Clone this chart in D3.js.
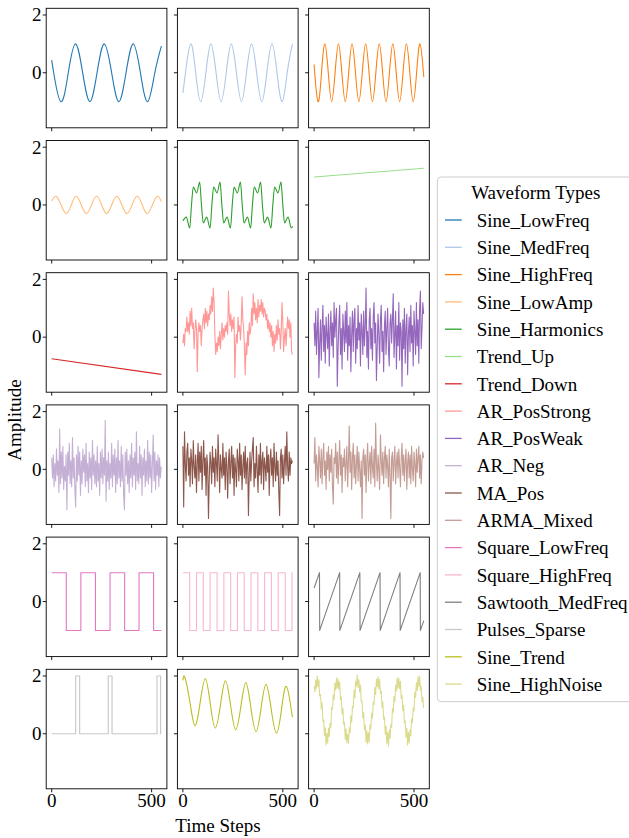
<!DOCTYPE html>
<html>
<head>
<meta charset="utf-8">
<script src="https://cdn.jsdelivr.net/npm/d3@7"></script>
<style>
  body { margin: 0; background: #fff; }
  svg { display: block; font-family: "Liberation Serif", "Times New Roman", serif; }
</style>
</head>
<body>
<script>
// series names and colours (tab20 order)
const seriesNames = ['Sine_LowFreq', 'Sine_MedFreq', 'Sine_HighFreq', 'Sine_LowAmp', 'Sine_Harmonics',
  'Trend_Up', 'Trend_Down', 'AR_PosStrong', 'AR_PosWeak', 'AR_Neg', 'MA_Pos', 'ARMA_Mixed',
  'Square_LowFreq', 'Square_HighFreq', 'Sawtooth_MedFreq', 'Pulses_Sparse', 'Sine_Trend', 'Sine_HighNoise']
const seriesColors = ['#1f77b4', '#aec7e8', '#ff7f0e', '#ffbb78', '#2ca02c', '#98df8a', '#d62728', '#ff9896',
  '#9467bd', '#c5b0d5', '#8c564b', '#c49c94', '#e377c2', '#f7b6d2', '#7f7f7f', '#c7c7c7', '#bcbd22', '#dbdb8d']

const xTicks = [0, 500]
const yTicks = [0, 2]

// smooth waves: [time step, amplitude] at turning points and crossings
const sineLowFreq = [[0,0.44],[10,0],[46,-1],[83,0],[119,1],[155,0],[191,-1],[227,0],[263,1],[300,0],[336,-1],
  [372,0],[408,1],[444,0],[480,-1],[516,0],[549,0.92]]
const sineMedFreq = [[0,-0.7],[13,0],[39,1],[64,0],[89,-1],[115,0],[140,1],[166,0],[191,-1],[217,0],[242,1],
  [268,0],[293,-1],[318,0],[344,1],[369,0],[395,-1],[420,0],[446,1],[471,0],[497,-1],[522,0],[548,1]]
const sineHighFreq = [[0,0.27],[3,0],[20,-1],[37,0],[54,1],[71,0],[88,-1],[105,0],[122,1],[139,0],[156,-1],
  [173,0],[190,1],[207,0],[224,-1],[241,0],[258,1],[275,0],[292,-1],[309,0],[326,1],[343,0],[360,-1],[377,0],
  [394,1],[411,0],[428,-1],[445,0],[462,1],[479,0],[496,-1],[513,0],[530,1],[549,-0.15]]
const sineLowAmp = [[0,0.14],[22,0.3],[47,0],[73,-0.3],[98,0],[123,0.3],[148,0],[174,-0.3],[199,0],[225,0.3],
  [250,0],[275,-0.3],[300,0],[326,0.3],[351,0],[377,-0.3],[402,0],[428,0.3],[453,0],[478,-0.3],[504,0],
  [529,0.3],[549,0.12]]
const sineHarmonics = [[0,-0.55],[17,-0.42],
  [34,-0.8],[43,0],[52,0.62],[69,0.42],[84,0.79],[93,0],[102,-0.62],[119,-0.42],
  [136,-0.8],[145,0],[154,0.62],[171,0.42],[186,0.79],[195,0],[204,-0.62],[221,-0.42],
  [238,-0.8],[247,0],[256,0.62],[273,0.42],[288,0.79],[297,0],[306,-0.62],[323,-0.42],
  [339,-0.8],[348,0],[357,0.62],[374,0.42],[389,0.79],[398,0],[407,-0.62],[424,-0.42],
  [441,-0.8],[450,0],[459,0.62],[476,0.42],[491,0.79],[500,0],[509,-0.62],[526,-0.42],
  [543,-0.8],[549,-0.74]]
const trendUp = [[0,0.97],[549,1.27]]
const trendDown = [[0,-0.75],[549,-1.29]]
const squareLowFreq = [[0,1],[73,-1],[146,1],[219,-1],[292,1],[365,-1],[437,1],[510,-1],[549,-1]]
const squareHighFreq = [[0,1],[34,-1],[68,1],[102,-1],[136,1],[171,-1],[205,1],[239,-1],[273,1],[307,-1],
  [341,1],[375,-1],[409,1],[443,-1],[477,1],[512,-1],[546,1],[549,1]]
const sawtoothMedFreq = [[0,0.47],[27,1],[28,-1],[128,1],[129,-1],[229,1],[230,-1],[330,1],[331,-1],[430,1],
  [431,-1],[531,1],[532,-1],[549,-0.66]]
const pulsesSparse = [[0,0],[120,2],[140,0],[283,2],[302,0],[527,2],[545,0],[549,0]]
const sineTrend = [[0,1.85],[10,1.95],[35,1.1],[60,0.28],[86,1.07],[112,1.9],[137,1.04],[162,0.2],[188,1.0],
  [213,1.83],[239,0.97],[264,0.14],[290,0.94],[315,1.77],[340,0.91],[366,0.08],[391,0.88],[416,1.71],
  [442,0.85],[468,0.02],[493,0.82],[518,1.64],[543,0.8],[549,0.62]]

// noisy series, one value every 4 time steps
const noiseSteps = d3.range(0, 549, 4)
const arPosStrong = [-0.2,0.1,-0.3,0.3,0.2,0.7,0.2,0.5,0.1,0.9,0.4,1.0,0.3,0.5,-0.4,0.2,0.6,0.3,-1.2,0.1,
  0.5,0.2,0.4,-0.3,0.3,0.6,0.8,0.3,1.0,0.5,0.9,0.4,0.8,0.6,1.1,0.8,1.4,0.9,1.7,1.2,
  0.1,-0.6,-0.2,-0.5,0.0,-0.3,0.2,-0.4,0.1,0.5,-0.1,0.3,0.0,0.4,0.2,0.5,0.1,1.6,0.8,0.4,
  0.8,0.2,0.6,0.3,0.7,-1.4,-0.3,0.1,-0.2,0.7,0.2,0.4,-0.1,0.5,1.4,0.6,0.3,-0.4,-1.3,-0.2,
  -0.6,0.2,-0.3,0.5,0.1,0.3,1.0,0.4,1.5,0.8,1.2,0.6,1.0,0.5,1.3,0.7,1.1,0.9,1.3,0.8,
  1.2,0.7,1.0,0.9,0.6,0.8,0.3,0.6,0.2,0.5,0.0,0.4,-0.3,0.2,-0.5,0.1,-0.2,0.4,-0.1,0.6,
  0.1,0.3,-0.4,0.2,1.2,0.5,-0.5,0.0,0.3,-0.3,0.2,0.7,0.3,0.6,0.0,0.5,-0.5,-0.6]
const arPosWeak = [0.5,-0.3,0.9,-0.6,0.2,1.0,-1.4,-0.2,0.6,-0.8,0.3,1.1,-0.5,0.4,-0.9,0.7,0.1,-0.4,0.8,-1.0,
  0.2,0.9,-0.3,0.5,-0.7,1.2,0.0,0.6,1.0,-1.7,-0.4,0.5,1.1,-0.6,0.3,-1.1,0.8,0.2,-0.5,0.9,
  -0.2,1.2,-0.8,0.4,-0.3,0.7,-1.2,0.1,0.9,-0.5,0.6,1.0,-0.9,0.3,-0.4,1.1,-0.1,0.5,-1.0,0.8,
  0.2,-0.6,0.9,-0.3,0.4,1.7,-0.7,0.2,-1.1,0.6,1.0,-0.4,0.3,-0.8,0.7,1.2,-0.2,0.5,-1.5,-0.3,
  0.8,0.1,-0.9,0.6,1.1,-0.5,0.2,-1.2,0.4,0.9,-0.6,0.3,1.0,-0.4,-1.0,0.5,0.8,-0.2,0.6,1.5,
  -0.7,0.1,0.9,-1.1,0.4,-0.3,1.2,-0.8,0.5,0.2,-1.7,0.6,-0.4,1.0,-0.9,0.3,0.8,-1.3,0.1,0.7,
  -0.5,1.1,-0.2,0.4,-1.0,0.9,0.2,-0.6,1.2,-0.3,0.6,-0.9,1.0,1.6,-0.4,0.3,1.2,0.8]
const arNeg = [0.4,-0.3,0.5,-0.6,0.2,-0.4,0.7,-0.2,0.3,-0.8,1.4,-0.5,0.6,-0.3,0.8,-0.7,0.1,-0.4,0.5,-1.4,
  0.6,-0.2,0.9,-0.5,0.3,-0.6,1.1,-0.3,0.4,-0.7,-1.3,0.5,-0.4,0.8,-0.2,0.6,-0.9,0.3,-0.5,0.7,
  -0.1,0.5,-0.6,0.9,-0.4,0.2,-0.8,0.6,-0.3,0.4,-0.7,1.0,-0.2,0.5,-0.5,0.3,-0.6,0.8,-0.4,0.2,
  -0.9,0.6,-0.3,0.7,-0.5,0.4,-0.2,1.7,-1.1,0.3,-0.4,0.6,-0.7,0.2,-0.3,0.9,-0.6,0.5,-0.2,0.7,
  -0.8,0.4,-0.5,1.0,-0.3,0.3,-0.6,0.8,-0.4,0.5,-0.9,-1.4,0.6,-0.2,0.7,-0.5,0.3,-0.8,0.5,-0.3,
  0.9,-0.6,0.4,-0.2,0.6,-0.7,1.3,-0.4,0.2,-0.5,0.8,-0.3,0.5,-0.9,0.4,-0.2,0.7,-0.6,0.3,-0.4,
  1.0,-0.5,0.6,-0.3,0.5,-0.8,0.2,1.2,-0.4,0.6,-0.7,0.3,-0.2,0.5,-0.6,0.4,-0.3,0.1]
const maPos = [0.8,-1.3,1.3,0.2,-0.4,0.6,0.9,-0.2,0.4,-0.6,0.7,0.3,-0.5,1.0,0.1,-0.3,0.5,-0.8,0.2,0.9,
  -0.4,0.6,-0.1,0.8,-0.7,0.3,1.0,-0.2,0.4,-0.9,0.5,0.1,-1.7,-0.3,0.6,0.2,-0.5,0.8,-0.1,0.4,
  -0.6,0.7,0.2,-0.4,1.2,0.3,-0.8,0.5,0.0,-0.3,0.9,-0.2,0.4,-0.7,0.6,0.1,-1.0,0.3,0.7,-0.5,
  0.2,0.8,-0.3,0.5,-0.9,0.4,0.0,-0.6,0.7,0.3,-0.4,0.9,-0.2,0.5,-0.7,0.1,0.6,-0.3,0.8,-0.5,
  0.2,0.4,-1.6,-0.2,0.6,-0.4,0.3,0.7,1.1,-0.6,0.2,-0.3,0.8,0.0,-0.8,0.5,-0.2,0.9,-0.5,0.3,
  0.6,-0.7,0.4,0.1,-0.4,0.8,-0.1,0.5,-0.9,0.3,0.7,-0.2,0.4,-0.6,0.9,0.1,-0.4,0.6,-0.2,0.3,
  -0.8,-1.6,0.4,0.7,-0.3,0.5,-0.5,0.2,0.8,-0.2,1.3,0.1,-0.4,0.6,-0.2,0.4,0.2,0.3]
const armaMixed = [0.2,1.1,-0.4,0.5,0.1,-0.6,0.8,0.3,-0.3,0.7,-0.5,0.4,0.9,-0.2,0.3,-0.7,0.6,0.0,0.8,-0.4,
  0.5,-0.1,0.7,-0.6,-1.2,0.4,0.2,0.9,-0.3,0.6,-0.5,0.3,1.0,-0.2,0.5,-0.8,0.4,0.1,0.7,-0.4,
  0.2,0.8,-0.6,0.3,1.5,-0.1,0.6,-0.7,0.4,0.9,-0.3,0.5,-0.5,0.2,0.8,-0.4,0.6,0.0,-0.6,0.3,
  -1.7,0.4,0.7,-0.2,0.5,-0.8,0.3,0.9,-0.4,0.2,0.6,-0.5,0.8,0.1,-0.3,0.7,-0.6,1.6,0.2,-0.4,
  0.5,0.0,-0.7,1.2,0.3,-0.2,0.6,-0.5,0.4,0.8,-0.3,0.5,0.1,-0.6,0.7,-0.2,-1.7,0.4,0.6,-0.4,
  0.3,0.8,-0.5,0.2,0.6,-0.3,0.7,0.1,-0.6,0.4,0.9,-0.2,0.5,-0.4,0.3,0.7,-0.7,0.2,0.6,-0.3,
  0.5,-0.5,0.8,0.0,-0.4,0.6,0.2,-0.6,0.7,-0.1,0.4,0.8,-0.3,0.5,-0.5,0.3,0.6,0.4]
const sineHighNoise = [1.64,1.45,1.86,1.57,2.0,1.64,1.87,1.31,1.36,0.86,1.07,0.43,0.48,-0.06,0.21,-0.39,0.02,-0.33,0.2,-0.09,
  0.37,0.22,0.91,0.85,1.34,1.18,1.76,1.52,1.94,1.58,1.9,1.55,1.79,1.18,1.28,0.69,0.89,0.33,0.4,-0.2,
  0.17,-0.32,-0.03,-0.33,0.21,0.03,0.62,0.4,0.94,0.9,1.51,1.25,1.81,1.65,2.03,1.6,1.87,1.45,1.69,1.11,
  1.13,0.55,0.73,0.13,0.3,-0.3,0.11,-0.35,0.03,-0.28,0.31,0.17,0.72,0.55,1.1,1.01,1.6,1.36,1.89,1.63,
  1.97,1.54,1.89,1.4,1.48,0.92,1.1,0.5,0.58,-0.02,0.26,-0.34,0.04,-0.42,0.15,-0.16,0.32,0.22,0.87,0.75,
  1.29,1.11,1.68,1.48,1.94,1.58,1.93,1.56,1.82,1.22,1.34,0.8,0.98,0.38,0.45,-0.12,0.19,-0.4,0.05,-0.32,
  0.14,-0.07,0.53,0.38,0.9,0.78,1.44,1.26,1.77,1.5,1.97,1.63,2.0,1.52,1.63,1.11,1.26,0.89]

const noisy = arr => noiseSteps.map((s, i) => [s, arr[i]])

var seriesPoints = [sineLowFreq, sineMedFreq, sineHighFreq, sineLowAmp, sineHarmonics, trendUp, trendDown,
  noisy(arPosStrong), noisy(arPosWeak), noisy(arNeg), noisy(maPos), noisy(armaMixed),
  squareLowFreq, squareHighFreq, sawtoothMedFreq, pulsesSparse, sineTrend, noisy(sineHighNoise)]
var seriesCurves = [d3.curveNatural, d3.curveNatural, d3.curveNatural, d3.curveNatural, d3.curveMonotoneX,
  d3.curveLinear, d3.curveLinear, d3.curveLinear, d3.curveLinear, d3.curveLinear, d3.curveLinear, d3.curveLinear,
  d3.curveStepAfter, d3.curveStepAfter, d3.curveLinear, d3.curveStepAfter, d3.curveNatural, d3.curveLinear]

// layout
var width = 629, height = 838
var left0 = 46.2, top0 = 8.3, colStep = 131.2, rowStep = 132.2
var pw = 120.7, ph = 119.5
var fontSize = 19

var svg = d3.select('body').append('svg')
  .attr('width', width)
  .attr('height', height)

var x = d3.scaleLinear().domain([-27.5, 576.5]).range([0, pw])
var y = d3.scaleLinear().domain([-1.906, 2.232]).range([ph, 0])

seriesNames.forEach((name, i) => {
  var row = Math.floor(i / 3), col = i % 3
  var g = svg.append('g')
    .attr('transform', `translate(${left0 + col * colStep},${top0 + row * rowStep})`)

  var line = d3.line()
    .x(d => x(d[0]))
    .y(d => y(d[1]))
    .curve(seriesCurves[i])

  g.append('path')
    .datum(seriesPoints[i])
    .attr('d', line)
    .attr('fill', 'none')
    .attr('stroke', seriesColors[i])
    .attr('stroke-width', 1.1)
    .attr('stroke-linejoin', 'round')

  g.append('rect')
    .attr('width', pw)
    .attr('height', ph)
    .attr('fill', 'none')
    .attr('stroke', '#000')
    .attr('stroke-width', 0.9)

  yTicks.forEach(t => {
    g.append('line')
      .attr('x1', -3.5).attr('x2', 0)
      .attr('y1', y(t)).attr('y2', y(t))
      .attr('stroke', '#000').attr('stroke-width', 0.9)
    if (col === 0) {
      g.append('text')
        .text(t)
        .attr('x', -4.6)
        .attr('y', y(t) + 6.3)
        .attr('text-anchor', 'end')
        .attr('font-size', fontSize)
    }
  })

  xTicks.forEach(t => {
    g.append('line')
      .attr('x1', x(t)).attr('x2', x(t))
      .attr('y1', ph).attr('y2', ph + 3.5)
      .attr('stroke', '#000').attr('stroke-width', 0.9)
    if (row === 5) {
      g.append('text')
        .text(t)
        .attr('x', x(t))
        .attr('y', ph + 18.5)
        .attr('text-anchor', 'middle')
        .attr('font-size', fontSize)
    }
  })
})

svg.append('text')
  .text('Time Steps')
  .attr('x', 218)
  .attr('y', 831.5)
  .attr('text-anchor', 'middle')
  .attr('font-size', fontSize)

svg.append('text')
  .text('Amplitude')
  .attr('transform', 'translate(21,420) rotate(-90)')
  .attr('text-anchor', 'middle')
  .attr('font-size', fontSize)

// legend
var legend = svg.append('g')

legend.append('rect')
  .attr('x', 437.3)
  .attr('y', 177)
  .attr('width', 198)
  .attr('height', 524.7)
  .attr('rx', 4)
  .attr('fill', '#fff')
  .attr('fill-opacity', 0.8)
  .attr('stroke', '#cccccc')
  .attr('stroke-width', 1)

legend.append('text')
  .text('Waveform Types')
  .attr('x', 535.8)
  .attr('y', 199.3)
  .attr('text-anchor', 'middle')
  .attr('font-size', fontSize)

seriesNames.forEach((name, i) => {
  var cy = 220 + 27.3 * i
  legend.append('line')
    .attr('x1', 445).attr('x2', 461.7)
    .attr('y1', cy).attr('y2', cy)
    .attr('stroke', seriesColors[i])
    .attr('stroke-width', 1.3)
  legend.append('text')
    .text(name)
    .attr('x', 476.7)
    .attr('y', cy + 6.7)
    .attr('font-size', fontSize)
})
</script>
</body>
</html>
